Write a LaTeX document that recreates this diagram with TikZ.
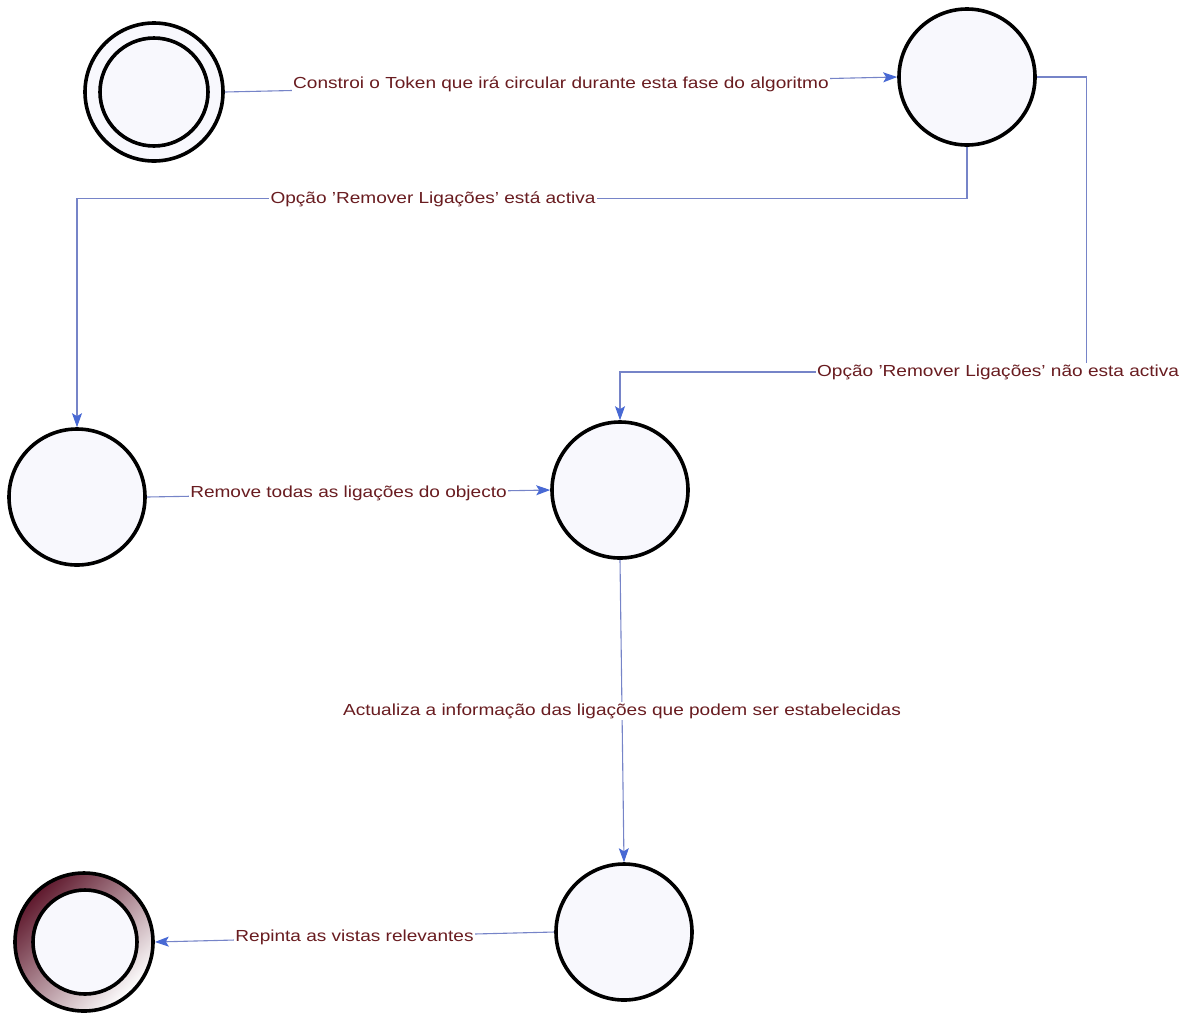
\documentclass[tikz,border=0pt]{standalone}
\usepackage{fontspec}
\setmainfont[FakeStretch=1.19]{Liberation Sans}
\usetikzlibrary{arrows.meta}
\definecolor{edgeblue}{RGB}{118,132,200}
\definecolor{tipblue}{RGB}{72,105,212}
\definecolor{labelred}{RGB}{105,28,32}
\definecolor{statefill}{RGB}{248,248,253}
\definecolor{ringshade}{RGB}{95,25,45}
\begin{document}
\begin{tikzpicture}[x=1pt,y=-1pt,
  state/.style={circle, draw=black, line width=3.6pt, fill=statefill,
    minimum size=136pt, inner sep=0pt},
  ring/.style={circle, draw=black, line width=3.6pt, inner sep=0pt},
  flow/.style={draw=edgeblue, line width=1.1pt,
    -{Stealth[length=14pt,width=10pt,inset=3pt,color=tipblue]}},
  lbl/.style={fill=white, text=labelred, inner sep=1.5pt,
    font=\fontsize{16}{18}\selectfont}
]
\useasboundingbox (0,0) rectangle (1190,1013);

% states
\node[ring, fill=statefill, minimum size=138pt] (init) at (154,92) {};
\node[ring, minimum size=108pt] (initin) at (154,92) {};
\node[state] (build) at (967,77) {};
\node[state] (remove) at (77,497) {};
\node[state] (update) at (620,490) {};
\node[state] (repaint) at (624,932) {};
\node[ring, minimum size=138pt, shading=axis, top color=ringshade,
  bottom color=white, shading angle=45] (final) at (84,942) {};
\node[ring, fill=statefill, minimum size=104pt] (finalin) at (85,942) {};

% transitions
\draw[flow] (init.east) -- node[lbl]
  {Constroi o Token que irá circular durante esta fase do algoritmo} (build.west);

\draw[flow] (build.south) -- ++(0,52) coordinate (b1)
  -- node[lbl, pos=0.6] {Opção 'Remover Ligações' está activa} (b1 -| remove.north)
  -- (remove.north);

\draw[flow] (build.east) -- ++(50,0) coordinate (c1) -- ++(0,295) coordinate (c2)
  -- node[lbl, pos=0.19] {Opção 'Remover Ligações' não esta activa} (c2 -| update.north)
  -- (update.north);

\draw[flow] (remove.east) -- node[lbl]
  {Remove todas as ligações do objecto} (update.west);

\draw[flow] (update.south) -- node[lbl]
  {Actualiza a informação das ligações que podem ser estabelecidas} (repaint.north);

\draw[flow] (repaint.west) -- node[lbl]
  {Repinta as vistas relevantes} (final.east);
\end{tikzpicture}
\end{document}
